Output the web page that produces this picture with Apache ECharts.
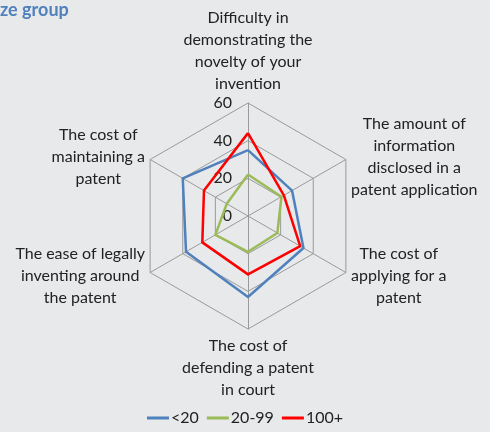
<!DOCTYPE html>
<html>
<head>
    <meta charset="UTF-8">
    <title>Radar</title>
    <script src="https://cdn.jsdelivr.net/npm/echarts@6/dist/echarts.min.js"></script>
    <style>
        html, body { margin: 0; padding: 0; background: #E8E9EB; }
        #main { width: 490px; height: 432px; }
    </style>
</head>
<body>
<div id="main"></div>
<script type="text/javascript">
    // indicators, counter-clockwise from the top (ECharts' own order)
    var indicators = [
        'Difficulty in\ndemonstrating the\nnovelty of your\ninvention',
        'The cost of\nmaintaining a\npatent',
        'The ease of legally\ninventing around\nthe patent',
        'The cost of\ndefending a patent\nin court',
        'The cost of\napplying for a\npatent',
        'The amount of\ninformation\ndisclosed in a\npatent application'
    ];
    var seriesNames = ['<20', '20-99', '100+'];
    var valuesSmall = [35, 40, 38, 43, 34, 27];   // <20
    var valuesMid = [22, 13, 20, 19, 18, 20.5];   // 20-99
    var valuesLarge = [44, 27, 28, 31, 32, 22];   // 100+
    var axisMax = 60;
    var colors = ['#4F81BD', '#9BBB59', '#FF0000'];

    var font = 'Lato, "Liberation Sans", sans-serif';

    var indicatorList = indicators.map(function (name, i) {
        var item = { name: name, max: axisMax, min: 0 };
        if (i === 0) {
            // only the top axis carries the 0..60 labels
            item.axisLabel = { show: true };
            item.nameGap = 3;
        } else if (i !== 3) {
            item.nameTextStyle = { verticalAlign: 'middle' };
        }
        return item;
    });

    var myChart = echarts.init(document.getElementById('main'));

    var option = {
        backgroundColor: '#E8E9EB',
        color: colors,
        title: {
            text: 'ze group',
            left: 0,
            top: 1,
            padding: 0,
            textStyle: { color: '#4F81BD', fontSize: 18, fontWeight: 'bold', fontFamily: font }
        },
        legend: {
            bottom: 1,
            left: 'center',
            icon: 'rect',
            itemWidth: 22,
            itemHeight: 3,
            itemGap: 8,
            data: seriesNames,
            textStyle: { fontSize: 16, color: '#222', fontFamily: font, padding: [0, 0, 0, -3] }
        },
        radar: {
            center: [248, 216],
            radius: 113,
            shape: 'polygon',
            splitNumber: 3,
            nameGap: 6,
            axisName: {
                color: '#222',
                fontSize: 16,
                fontFamily: font,
                lineHeight: 22,
                formatter: function (name) {
                    return name.split('\n').map(function (l) { return '{c|' + l + '}'; }).join('\n');
                },
                rich: {
                    c: { align: 'center', fontSize: 16, lineHeight: 22, color: '#222', fontFamily: font }
                }
            },
            axisLabel: {
                show: false,
                fontSize: 16,
                color: '#222',
                fontFamily: font,
                margin: 16
            },
            axisTick: { show: false },
            axisLine: { lineStyle: { color: '#9A9A9A', width: 1 } },
            splitLine: { lineStyle: { color: '#9A9A9A', width: 1 } },
            splitArea: { show: false },
            indicator: indicatorList
        },
        series: [
            {
                type: 'radar',
                symbol: 'none',
                data: [
                    { name: seriesNames[0], value: valuesSmall, lineStyle: { color: colors[0], width: 2.5 }, itemStyle: { color: colors[0] } },
                    { name: seriesNames[1], value: valuesMid, lineStyle: { color: colors[1], width: 2.5 }, itemStyle: { color: colors[1] } },
                    { name: seriesNames[2], value: valuesLarge, lineStyle: { color: colors[2], width: 2.5 }, itemStyle: { color: colors[2] } }
                ]
            }
        ]
    };

    myChart.setOption(option);
</script>
</body>
</html>
